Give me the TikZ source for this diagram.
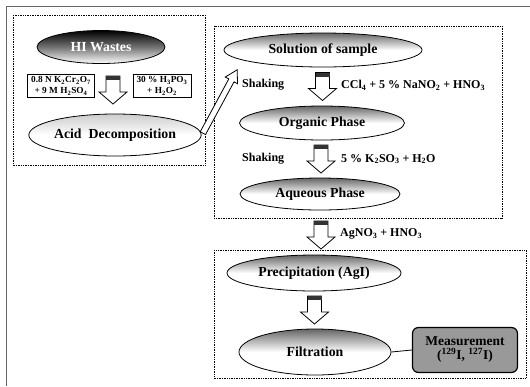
\documentclass[tikz,border=0pt]{standalone}
\usepackage{fontspec}
\setmainfont{Liberation Serif}
\usetikzlibrary{shapes.geometric,calc}
\newcommand{\chsub}[1]{\textsubscript{#1}}
\tikzset{
  ell/.style={ellipse, draw, thick, inner sep=0pt,
    font=\bfseries\fontsize{13.8}{14}\selectfont,
    top color=black!60, bottom color=white, middle color=white},
  darkell/.style={ell, top color=black, bottom color=white, middle color=black!55, text=white},
  lightell/.style={ell, top color=black!20, bottom color=white, middle color=white},
  reagent/.style={draw, thick, align=center, inner xsep=3.5pt, inner ysep=2.5pt,
    font=\bfseries\fontsize{9.3}{11}\selectfont},
  cond/.style={font=\bfseries\fontsize{12}{13}\selectfont, inner sep=0pt},
  group/.style={draw, densely dotted, line width=0.7pt},
  pics/blockarr/.style={code={
    \draw[thick, fill=white] (-7,-14) -- (7,-14) -- (7,2) -- (14,2) -- (0,14) -- (-14,2) -- (-7,2) -- cycle;
    \fill[black!80] (-7,-14) rectangle (7,-10);
  }},
  pics/longarr/.style={code={
    \draw[thick, fill=white] (-3,-36) -- (3,-36) -- (3,24) -- (7,24) -- (0,36) -- (-7,24) -- (-3,24) -- cycle;
  }}
}
\begin{document}
\begin{tikzpicture}[x=1pt,y=-1pt]
\useasboundingbox (0,0) rectangle (530,386);
% outer frame (scan edge)
\draw[black!60] (6,386) -- (6,6) -- (530,6);
% groups
\draw[group] (13,15) rectangle (205,165);
\draw[group] (214,26) rectangle (502,218);
\draw[group] (214,250) rectangle (526,378);
% decomposition
\node[darkell, minimum width=128, minimum height=33] (hi) at (101,47) {HI Wastes};
\node[reagent] (ox) at (61,86) {0.8 N K\chsub{2}Cr\chsub{2}O\chsub{7}\\+ 9 M H\chsub{2}SO\chsub{4}};
\node[reagent] (red) at (162,86) {30 \% H\chsub{3}PO\chsub{3}\\+ H\chsub{2}O\chsub{2}};
\node[lightell, minimum width=156, minimum height=42] (acid) at (115,135) {Acid\ \ Decomposition};
\pic at (113,90) {blockarr};
\pic[rotate=151.6] at (220,101.5) {longarr};
% extraction
\node[ell, minimum width=198, minimum height=34] (sol) at (323,50) {Solution of sample};
\node[ell, minimum width=165, minimum height=34] (org) at (322,123) {Organic Phase};
\node[ell, minimum width=160, minimum height=32] (aq) at (320,194) {Aqueous Phase};
\pic at ($(sol.south)!.5!(org.north)$) {blockarr};
\pic at ($(org.south)!.5!(aq.north)$) {blockarr};
\node[cond, anchor=west] (sh1) at (242,85) {Shaking};
\node[cond, anchor=west] (r1) at (341,85) {CCl\chsub{4} + 5 \% NaNO\chsub{2} + HNO\chsub{3}};
\node[cond, anchor=west] (sh2) at (242,159) {Shaking};
\node[cond, anchor=west] (r2) at (341,159) {5 \% K\chsub{2}SO\chsub{3} + H\chsub{2}O};
% precipitation
\pic at (321,235) {blockarr};
\node[cond, anchor=west] (r3) at (340,234) {AgNO\chsub{3} + HNO\chsub{3}};
\node[ell, minimum width=174, minimum height=36] (pre) at (314,273) {Precipitation (AgI)};
\node[ell, minimum width=152, minimum height=46] (fil) at (315,352) {Filtration};
\pic at ($(pre.south)!.5!(fil.north)$) {blockarr};
\node[draw, very thick, rounded corners=6pt, fill=black!40, align=center,
  minimum width=105, minimum height=45, font=\bfseries\fontsize{13.5}{14}\selectfont] (meas) at (465,350)
  {Measurement\\(\textsuperscript{129}I, \textsuperscript{127}I)};
\draw[thick] (fil.east) -- (meas.west);
\end{tikzpicture}
\end{document}
